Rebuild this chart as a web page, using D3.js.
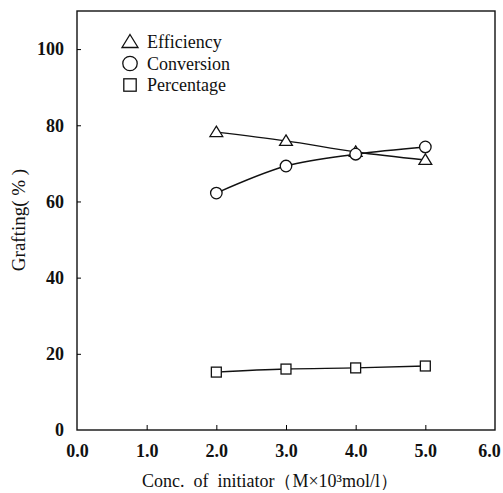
<!DOCTYPE html>
<html>
<head>
<meta charset="utf-8">
<script src="https://cdn.jsdelivr.net/npm/d3@7"></script>
<style>
  body { margin: 0; background: #fff; }
  svg text { font-family: "Liberation Serif", "Times New Roman", serif !important; fill: #111; }
</style>
</head>
<body>
<div id="chart"></div>
<script>
(function() {
    // Values
    var conc = [2.0, 3.0, 4.0, 5.0];
    var efficiency = [78.2, 75.9, 73.0, 70.9];
    var conversion = [62.2, 69.3, 72.4, 74.3];
    var percentage = [15.2, 16.0, 16.3, 16.8];
    var xTicks = [0, 1, 2, 3, 4, 5, 6];
    var yTicks = [0, 20, 40, 60, 80, 100];

    var width = 503, height = 493;
    var margin = { top: 11, right: 8, bottom: 63, left: 77 };
    var serif = '"Liberation Serif", "Times New Roman", serif';

    var svg = d3.select('#chart')
        .append('svg')
        .attr('width', width)
        .attr('height', height)
        .style('font-family', serif);

    var xScale = d3.scaleLinear()
        .domain([0, 6])
        .range([margin.left, width - margin.right]);

    var yScale = d3.scaleLinear()
        .domain([0, 110])
        .range([height - margin.bottom, margin.top]);

    // Frame
    svg.append('rect')
        .attr('x', margin.left)
        .attr('y', margin.top)
        .attr('width', width - margin.left - margin.right)
        .attr('height', height - margin.top - margin.bottom)
        .attr('fill', 'none')
        .attr('stroke', '#111')
        .attr('stroke-width', 1.4);

    // Bottom axis, ticks pointing inward
    var xAxis = svg.append('g')
        .attr('transform', `translate(0, ${height - margin.bottom})`)
        .call(d3.axisBottom(xScale)
            .tickValues(xTicks)
            .tickSizeInner(-5)
            .tickSizeOuter(0)
            .tickPadding(14)
            .tickFormat(d3.format('.1f')));
    xAxis.attr('font-family', serif);
    xAxis.select('.domain').remove();
    xAxis.selectAll('.tick line').filter(d => d === 0 || d === 6).remove();
    xAxis.selectAll('text')
        .style('font-size', '18px')
        .style('font-weight', 'bold')
        .attr('dx', d => d === 6 ? -6 : 0);

    // Left axis, ticks pointing inward
    var yAxis = svg.append('g')
        .attr('transform', `translate(${margin.left}, 0)`)
        .call(d3.axisLeft(yScale)
            .tickValues(yTicks)
            .tickSizeInner(-4)
            .tickSizeOuter(0)
            .tickPadding(13));
    yAxis.attr('font-family', serif);
    yAxis.select('.domain').remove();
    yAxis.selectAll('.tick line').filter(d => d === 0).remove();
    yAxis.selectAll('text')
        .style('font-size', '18px')
        .style('font-weight', 'bold');

    // Lines
    var series = [
        { name: 'Efficiency', values: efficiency, symbol: 'triangle' },
        { name: 'Conversion', values: conversion, symbol: 'circle' },
        { name: 'Percentage', values: percentage, symbol: 'square' }
    ];

    var line = d3.line()
        .x(d => xScale(d[0]))
        .y(d => yScale(d[1]))
        .curve(d3.curveMonotoneX);

    function drawSymbol(g, type, x, y, s) {
        if (type === 'triangle') {
            g.append('path')
                .attr('d', `M${x},${y - s * 0.75}L${x + s * 0.8},${y + s * 0.55}L${x - s * 0.8},${y + s * 0.55}Z`)
                .attr('fill', '#fff').attr('stroke', '#111').attr('stroke-width', 1.3);
        } else if (type === 'circle') {
            g.append('circle')
                .attr('cx', x).attr('cy', y).attr('r', s * 0.72)
                .attr('fill', '#fff').attr('stroke', '#111').attr('stroke-width', 1.3);
        } else {
            g.append('rect')
                .attr('x', x - s * 0.62).attr('y', y - s * 0.62)
                .attr('width', s * 1.24).attr('height', s * 1.24)
                .attr('fill', '#fff').attr('stroke', '#111').attr('stroke-width', 1.3);
        }
    }

    series.forEach(function(s) {
        var pts = conc.map((c, i) => [c, s.values[i]]);
        svg.append('path')
            .datum(pts)
            .attr('d', line)
            .attr('fill', 'none')
            .attr('stroke', '#111')
            .attr('stroke-width', 1.4);
        var g = svg.append('g');
        pts.forEach(p => drawSymbol(g, s.symbol, xScale(p[0]), yScale(p[1]), 8));
    });

    // Legend
    var legend = svg.append('g');
    series.forEach(function(s, i) {
        var y = 42 + i * 21.5;
        drawSymbol(legend, s.symbol, 130, y, 10);
        legend.append('text')
            .attr('x', 147)
            .attr('y', y + 6)
            .style('font-size', '18px')
            .text(s.name);
    });

    // Axis titles
    svg.append('text')
        .attr('x', 270)
        .attr('y', 487)
        .style('text-anchor', 'middle')
        .style('font-size', '18px')
        .attr('xml:space', 'preserve')
        .text('Conc.  of  initiator（M×10³mol/l）');

    svg.append('text')
        .attr('transform', 'rotate(-90)')
        .attr('x', -220)
        .attr('y', 25)
        .style('text-anchor', 'middle')
        .style('font-size', '19px')
        .attr('xml:space', 'preserve')
        .text('Grafting( % )');
})();
</script>
</body>
</html>
